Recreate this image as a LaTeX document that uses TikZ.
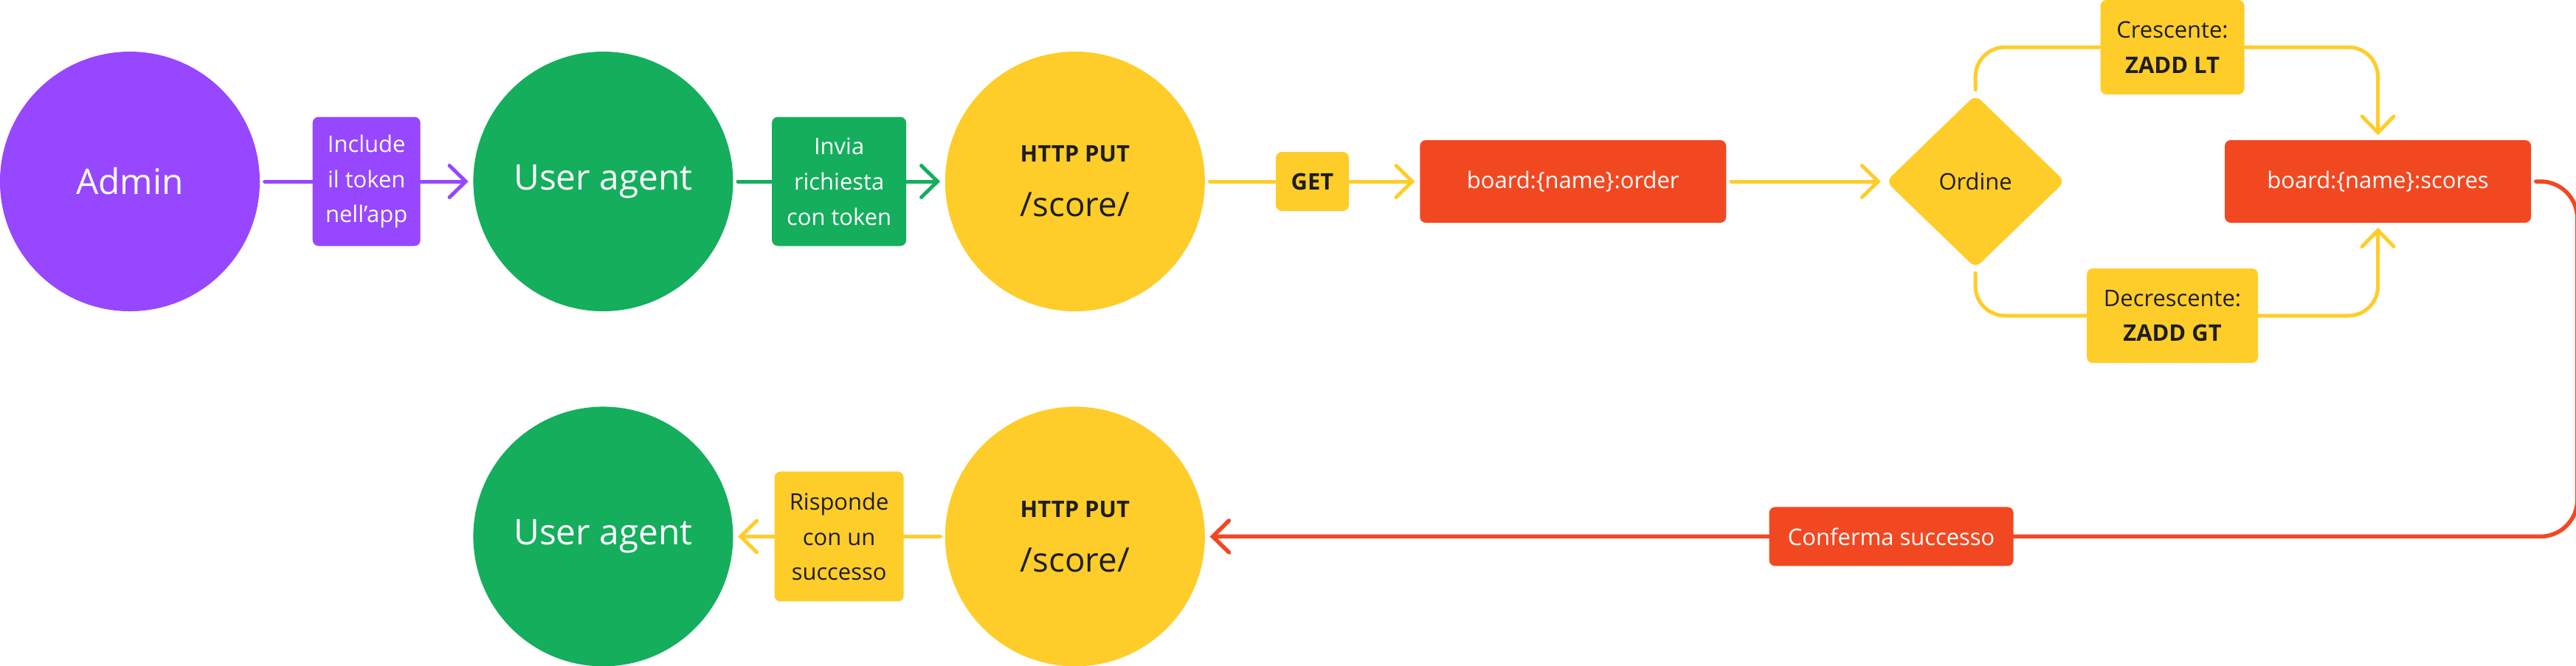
\documentclass[tikz,border=0pt]{standalone}
\usepackage{fontspec}
\setmainfont{Open Sans}
\usetikzlibrary{arrows.meta, positioning, shapes.geometric}

\definecolor{fjpurple}{HTML}{9747FF}
\definecolor{fjgreen}{HTML}{14AE5C}
\definecolor{fjyellow}{HTML}{FFCD29}
\definecolor{fjred}{HTML}{F24822}
\definecolor{fjink}{HTML}{1E1E1E}

\begin{document}
\begin{tikzpicture}[
      actor/.style={circle, draw=none, minimum size=3.52cm, inner sep=0pt, align=center, font=\fontsize{13.6}{17}\selectfont},
      box/.style={draw=none, rounded corners=0.08cm, minimum height=1.12cm, minimum width=4.15cm, align=center, text=white, fill=fjred, font=\fontsize{8.8}{13.6}\selectfont},
      tag/.style={draw=none, rounded corners=0.08cm, inner sep=0pt, align=center, font=\fontsize{8.8}{13.6}\selectfont},
      lbl/.style={tag, midway},
      arr/.style={-{Straight Barb[length=0.22cm, width=0.43cm, line cap=round]}, line width=0.05cm, line cap=round, shorten <=0.06cm, shorten >=0.06cm},
      wire/.style={line width=0.05cm, line cap=round, shorten <=0.06cm},
    ]

    \useasboundingbox (0,0) rectangle (34.91,-9.02);

    \node[actor, fill=fjpurple, text=white] (admin) at (1.76,-2.46) {Admin};
    \node[actor, fill=fjgreen, text=white, right=2.88cm of admin] (ua_top) {User agent};
    \node[actor, fill=fjyellow, text=fjink, right=2.86cm of ua_top, font=\fontsize{13}{16}\selectfont] (put_top) {{\fontsize{8.8}{10}\selectfont\bfseries HTTP PUT}\\[5pt]/score/};
    \node[box, right=2.90cm of put_top] (order) {board:\{name\}:order};
    \node[diamond, draw=none, fill=fjyellow, text=fjink, rounded corners=0.1cm, minimum width=2.43cm, minimum height=2.35cm, inner sep=0pt, font=\fontsize{8.8}{13.6}\selectfont, right=2.15cm of order] (choice) {Ordine};
    \node[box, right=2.15cm of choice] (scores) {board:\{name\}:scores};

    \node[tag, fill=fjyellow, text=fjink, minimum width=1.95cm, minimum height=1.28cm] (cres) at (29.44,-0.64) {Crescente:\\\textbf{ZADD LT}};
    \node[tag, fill=fjyellow, text=fjink, minimum width=2.32cm, minimum height=1.28cm] (decr) at (29.44,-4.28) {Decrescente:\\\textbf{ZADD GT}};

    \node[actor, fill=fjyellow, text=fjink, below=1.28cm of put_top, font=\fontsize{13}{16}\selectfont] (put_bot) {{\fontsize{8.8}{10}\selectfont\bfseries HTTP PUT}\\[5pt]/score/};
    \node[actor, fill=fjgreen, text=white, below=1.28cm of ua_top] (ua_bot) {User agent};

    \coordinate[right=0.62cm of scores.east] (turn);

    \draw[arr, fjpurple] (admin) -- node[lbl, fill=fjpurple, text=white, minimum width=1.46cm, minimum height=1.75cm] {Include\\il token\\nell'app} (ua_top);
    \draw[arr, fjgreen] (ua_top) -- node[lbl, fill=fjgreen, text=white, minimum width=1.82cm, minimum height=1.75cm] {Invia\\richiesta\\con token} (put_top);
    \draw[arr, fjyellow] (put_top) -- node[lbl, fill=fjyellow, text=fjink, minimum width=0.99cm, minimum height=0.8cm] {\textbf{GET}} (order);
    \draw[arr, fjyellow] (order) -- (choice);

    \draw[wire, fjyellow, rounded corners=0.4cm] (choice.north) |- (cres.west);
    \draw[arr, fjyellow, shorten <=0pt, rounded corners=0.4cm] (cres.east) -| (scores.north);
    \draw[wire, fjyellow, rounded corners=0.4cm] (choice.south) |- (decr.west);
    \draw[arr, fjyellow, shorten <=0pt, rounded corners=0.4cm] (decr.east) -| (scores.south);

    \draw[arr, fjred, line width=0.055cm, rounded corners=0.5cm] (scores.east) -- (turn) |- node[tag, pos=0.75, fill=fjred, text=white, minimum width=3.31cm, minimum height=0.8cm] {Conferma successo} (put_bot.east);

    \draw[arr, fjyellow] (put_bot) -- node[lbl, fill=fjyellow, text=fjink, minimum width=1.75cm, minimum height=1.76cm] {Risponde\\con un\\successo} (ua_bot);
  \end{tikzpicture}
\end{document}
